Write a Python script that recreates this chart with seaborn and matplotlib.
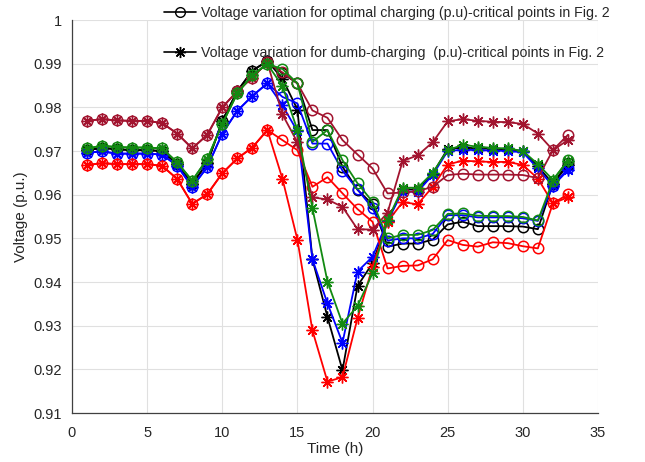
import numpy as np
import matplotlib
matplotlib.use("Agg")
import matplotlib.pyplot as plt
from matplotlib.lines import Line2D
import seaborn as sns

# heures 1..33
hours = np.arange(1, 34)

# tension (p.u.) - charge optimale (cercles) / charge "dumb" (étoiles)
black_opt = [0.9702, 0.9707, 0.9704, 0.9702, 0.9702, 0.9700, 0.9670, 0.9625, 0.9672, 0.9769, 0.9837, 0.9884, 0.9906,
             0.9878, 0.9855, 0.9748, 0.9748, 0.9664, 0.9611, 0.9578, 0.9481, 0.9488, 0.9488, 0.9497, 0.9532,
             0.9538, 0.9528, 0.9528, 0.9528, 0.9527, 0.9521, 0.9625, 0.9672]
black_dumb = [0.9702, 0.9707, 0.9704, 0.9702, 0.9702, 0.9700, 0.9670, 0.9625, 0.9672, 0.9769, 0.9837, 0.9884, 0.9906,
              0.9866, 0.9795, 0.9452, 0.9320, 0.9198, 0.9391, 0.9443, 0.9540, 0.9612, 0.9612, 0.9648, 0.9705,
              0.9708, 0.9706, 0.9705, 0.9704, 0.9700, 0.9665, 0.9625, 0.9668]

blue_opt = [0.9696, 0.9699, 0.9694, 0.9694, 0.9694, 0.9692, 0.9666, 0.9618, 0.9663, 0.9740, 0.9792, 0.9826, 0.9855,
            0.9824, 0.9809, 0.9717, 0.9717, 0.9655, 0.9612, 0.9569, 0.9495, 0.9500, 0.9500, 0.9510, 0.9553,
            0.9553, 0.9548, 0.9548, 0.9548, 0.9546, 0.9540, 0.9620, 0.9660]
blue_dumb = [0.9696, 0.9699, 0.9694, 0.9694, 0.9694, 0.9692, 0.9666, 0.9618, 0.9663, 0.9740, 0.9792, 0.9826, 0.9855,
             0.9805, 0.9745, 0.9452, 0.9351, 0.9261, 0.9424, 0.9458, 0.9540, 0.9607, 0.9607, 0.9645, 0.9700,
             0.9703, 0.9702, 0.9701, 0.9700, 0.9697, 0.9660, 0.9620, 0.9656]

green_opt = [0.9706, 0.9712, 0.9709, 0.9708, 0.9708, 0.9706, 0.9674, 0.9632, 0.9682, 0.9762, 0.9832, 0.9874, 0.9899,
             0.9888, 0.9855, 0.9721, 0.9748, 0.9679, 0.9626, 0.9584, 0.9500, 0.9508, 0.9508, 0.9519, 0.9556,
             0.9557, 0.9552, 0.9551, 0.9551, 0.9549, 0.9541, 0.9632, 0.9679]
green_dumb = [0.9706, 0.9712, 0.9709, 0.9708, 0.9708, 0.9706, 0.9674, 0.9632, 0.9682, 0.9762, 0.9832, 0.9874, 0.9899,
              0.9849, 0.9748, 0.9569, 0.9401, 0.9305, 0.9345, 0.9420, 0.9542, 0.9616, 0.9616, 0.9650, 0.9702,
              0.9714, 0.9710, 0.9707, 0.9706, 0.9700, 0.9670, 0.9634, 0.9678]

red_opt = [0.9668, 0.9672, 0.9670, 0.9670, 0.9670, 0.9666, 0.9636, 0.9579, 0.9601, 0.9649, 0.9683, 0.9708, 0.9748,
           0.9725, 0.9702, 0.9618, 0.9640, 0.9603, 0.9567, 0.9538, 0.9431, 0.9437, 0.9438, 0.9452, 0.9496,
           0.9485, 0.9481, 0.9491, 0.9489, 0.9482, 0.9477, 0.9580, 0.9601]
red_dumb = [0.9668, 0.9672, 0.9670, 0.9670, 0.9670, 0.9666, 0.9636, 0.9579, 0.9601, 0.9649, 0.9683, 0.9708, 0.9748,
            0.9637, 0.9497, 0.9289, 0.9172, 0.9182, 0.9317, 0.9435, 0.9538, 0.9583, 0.9578, 0.9618, 0.9669,
            0.9678, 0.9676, 0.9675, 0.9675, 0.9668, 0.9637, 0.9580, 0.9594]

brown_opt = [0.9769, 0.9773, 0.9770, 0.9769, 0.9769, 0.9764, 0.9740, 0.9706, 0.9737, 0.9800, 0.9837, 0.9868, 0.9903,
             0.9880, 0.9855, 0.9793, 0.9776, 0.9725, 0.9692, 0.9660, 0.9603, 0.9605, 0.9608, 0.9618, 0.9645,
             0.9648, 0.9646, 0.9646, 0.9646, 0.9645, 0.9638, 0.9702, 0.9737]
brown_dumb = [0.9769, 0.9773, 0.9770, 0.9769, 0.9769, 0.9764, 0.9740, 0.9706, 0.9737, 0.9800, 0.9837, 0.9868, 0.9903,
              0.9784, 0.9720, 0.9594, 0.9589, 0.9572, 0.9521, 0.9520, 0.9559, 0.9677, 0.9690, 0.9720, 0.9768,
              0.9773, 0.9769, 0.9767, 0.9766, 0.9762, 0.9740, 0.9702, 0.9725]

y_ticks = [0.91, 0.92, 0.93, 0.94, 0.95, 0.96, 0.97, 0.98, 0.99, 1.0]
y_tick_labels = ["0.91", "0.92", "0.93", "0.94", "0.95", "0.96", "0.97", "0.98", "0.99", "1"]
x_ticks = [0, 5, 10, 15, 20, 25, 30, 35]

label_opt = "Voltage variation for optimal charging (p.u)-critical points in Fig. 2"
label_dumb = "Voltage variation for dumb-charging  (p.u)-critical points in Fig. 2"

sns.set_theme(style="whitegrid")
plt.rcParams["font.family"] = ["Liberation Sans", "DejaVu Sans"]

fig = plt.figure(figsize=(6.45, 4.62), dpi=100)
ax = fig.add_axes([0.1116, 0.106, 0.8155, 0.8507])

asterisk = (8, 2, 0)
series = [
    (black_opt, black_dumb, "black"),
    (blue_opt, blue_dumb, "#0000ff"),
    (red_opt, red_dumb, "#ff0000"),
    (brown_opt, brown_dumb, "#a2142f"),
    (green_opt, green_dumb, "#128a12"),
]
for opt, dumb, col in series:
    sns.lineplot(x=hours, y=opt, ax=ax, color=col, lw=1.3, marker="o", ms=7.5,
                 mfc="none", mec=col, mew=1.1)
    sns.lineplot(x=hours, y=dumb, ax=ax, color=col, lw=1.3, marker=asterisk, ms=8.5,
                 mec=col, mew=1.0)

ax.set_xlim(0, 35)
ax.set_ylim(0.91, 1.0)
ax.set_xticks(x_ticks)
ax.set_yticks(y_ticks)
ax.set_yticklabels(y_tick_labels)
ax.grid(True, color="#e0e0e0", lw=0.8)
ax.set_facecolor("white")
for s in ["top", "right"]:
    ax.spines[s].set_visible(False)
for s in ["left", "bottom"]:
    ax.spines[s].set_color("#404040")
    ax.spines[s].set_linewidth(0.9)
ax.tick_params(direction="in", length=4, width=0.8, color="#404040",
               labelsize=10.5, labelcolor="#262626")
ax.tick_params(axis="x", pad=9)
ax.tick_params(axis="y", pad=7)
ax.set_xlabel("Time (h)", fontsize=11, color="#262626", labelpad=2)
ax.set_ylabel("Voltage (p.u.)", fontsize=11, color="#262626", labelpad=4)

handles = [
    Line2D([], [], color="black", lw=1.2, marker="o", ms=7, mfc="none", mec="black"),
    Line2D([], [], color="black", lw=1.2, marker=asterisk, ms=8, mec="black"),
]
fig.legend(handles, [label_opt, label_dumb], loc="upper left", bbox_to_anchor=(0.255, 0.987),
           frameon=False, fontsize=10.2, handlelength=2.2, handletextpad=0.4,
           labelspacing=1.8, borderpad=0, borderaxespad=0)

fig.savefig("out.png", dpi=100)
